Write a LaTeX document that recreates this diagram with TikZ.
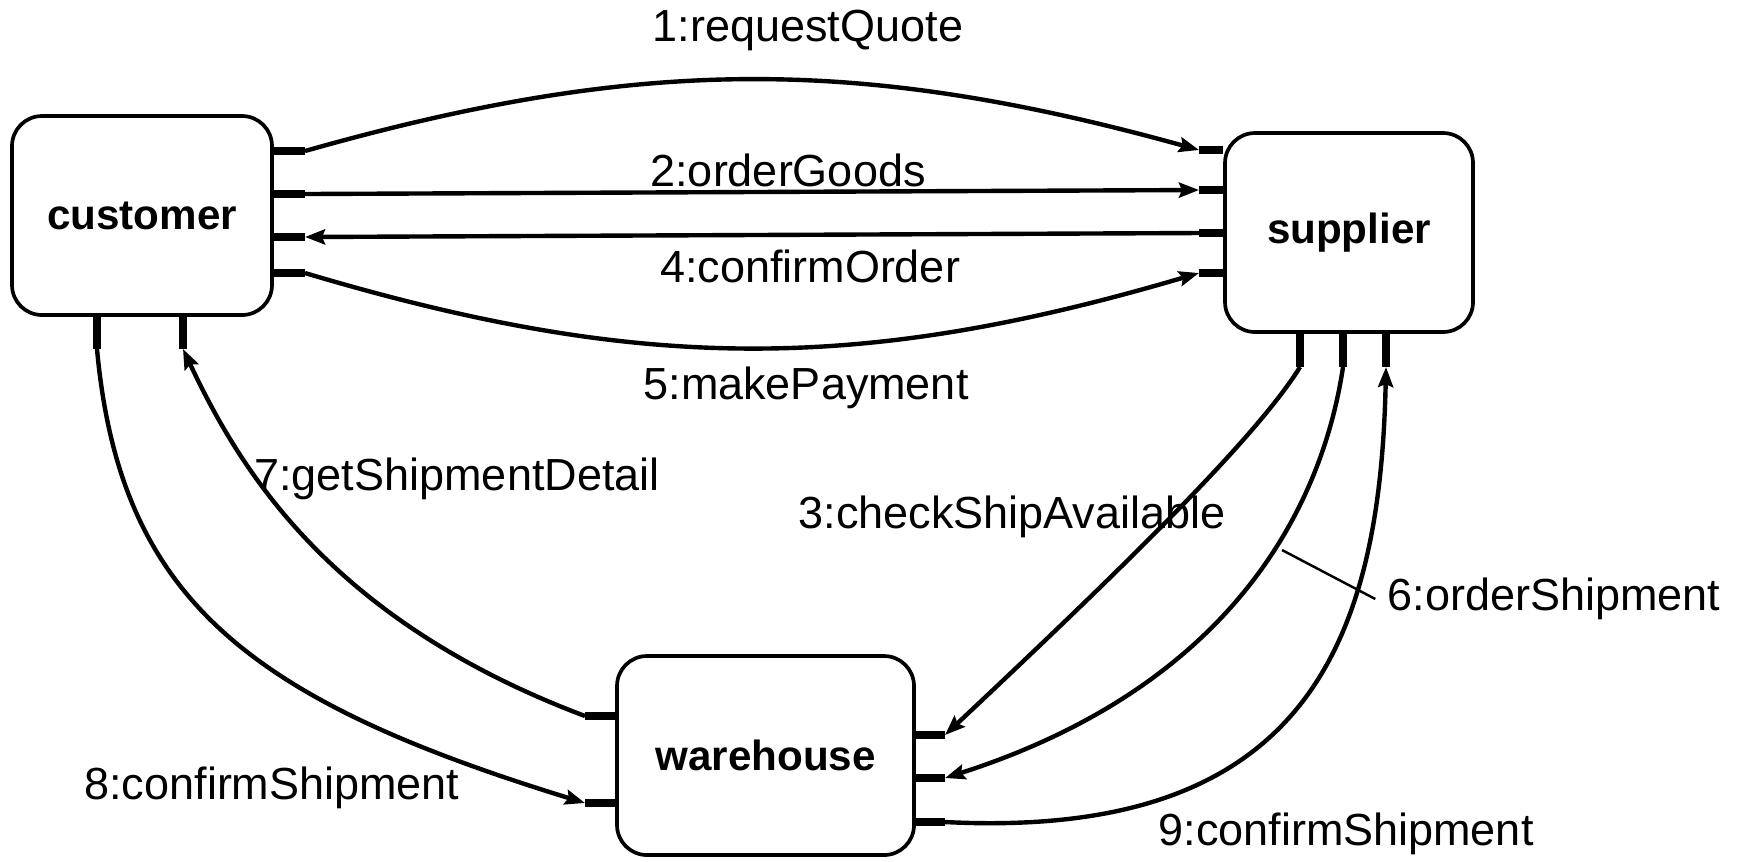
\documentclass[tikz,border=0pt]{standalone}
\usepackage{fontspec}
\setmainfont{Liberation Sans}
\usepackage{tikz}
\usetikzlibrary{arrows.meta}
\tikzstyle{arrow} = [line width=1.25pt,-{Stealth[length=2mm,width=1.5mm,inset=0.3mm]}]

\begin{document}
\begin{tikzpicture}
        [
            x=0.1mm,y=-0.1mm,
            box/.style={rectangle,rounded corners=3mm,draw=black,line width=1.05pt,minimum height=19.9mm,font=\fontsize{12}{14}\selectfont\bfseries},
            port/.style={line width=2.5pt},
            msg/.style={font=\fontsize{12.8}{15}\selectfont},
            leader/.style={line width=0.7pt},
        ]
    \useasboundingbox (0,0) rectangle (1740,861);

    \node[box,minimum width=26mm] (customer) at (142,215.5) {customer};
    \node[box,minimum width=24.8mm] (supplier) at (1349,232.5) {supplier};
    \node[box,minimum width=29.7mm] (warehouse) at (765.5,755.5) {warehouse};

    % port ends
    \coordinate (c1) at (305,151);
    \coordinate (c2) at (305,194);
    \coordinate (c3) at (305,237);
    \coordinate (c4) at (305,273);
    \coordinate (c5) at (97,349);
    \coordinate (c6) at (183,349);
    \coordinate (s1) at (1199,150);
    \coordinate (s2) at (1199,190);
    \coordinate (s3) at (1199,233);
    \coordinate (s4) at (1199,273);
    \coordinate (s5) at (1300,367);
    \coordinate (s6) at (1343,367);
    \coordinate (s7) at (1386,367);
    \coordinate (w1) at (585,716);
    \coordinate (w2) at (585,803);
    \coordinate (w3) at (945,735);
    \coordinate (w4) at (945,778);
    \coordinate (w5) at (945,822);

    \foreach \p in {c1,c2,c3,c4}
        \draw[port] (customer.east |- \p) -- (\p);
    \foreach \p in {c5,c6}
        \draw[port] (customer.south -| \p) -- (\p);
    \foreach \p in {s1,s2,s3,s4}
        \draw[port] (supplier.west |- \p) -- (\p);
    \foreach \p in {s5,s6,s7}
        \draw[port] (supplier.south -| \p) -- (\p);
    \foreach \p in {w1,w2}
        \draw[port] (warehouse.west |- \p) -- (\p);
    \foreach \p in {w3,w4,w5}
        \draw[port] (warehouse.east |- \p) -- (\p);

    % messages
    \draw[arrow] (c1) .. controls (640,56) and (860,56) .. (s1);
    \draw[arrow] (c2) -- (s2);
    \draw[arrow] (s3) -- (c3);
    \draw[arrow] (c4) .. controls (640,373) and (860,373) .. (s4);
    \draw[arrow] (s5) .. controls (1255,440) and (1110,580) .. (w3);
    \draw[arrow] (s6) .. controls (1320,520) and (1220,690) .. (w4);
    \draw[arrow] (w5) .. controls (1300,840) and (1380,650) .. (s7);
    \draw[arrow] (w1) .. controls (330,620) and (240,470) .. (c6);
    \draw[arrow] (c5) .. controls (120,600) and (250,700) .. (w2);

    \node[msg] (l1) at (808,30) {1:requestQuote};
    \node[msg] (l2) at (788,170) {2:orderGoods};
    \node[msg] (l4) at (810,266) {4:confirmOrder};
    \node[msg] (l5) at (806,388) {5:makePayment};
    \node[msg] (l3) at (1012,517) {3:checkShipAvailable};
    \node[msg] (l6) at (1554,599) {6:orderShipment};
    \node[msg] (l7) at (457,479) {7:getShipmentDetail};
    \node[msg] (l8) at (272,788) {8:confirmShipment};
    \node[msg] (l9) at (1346,834) {9:confirmShipment};

    \coordinate (k6) at (1282,550);
    \draw[leader] (l6.west) -- (k6);
\end{tikzpicture}
\end{document}
